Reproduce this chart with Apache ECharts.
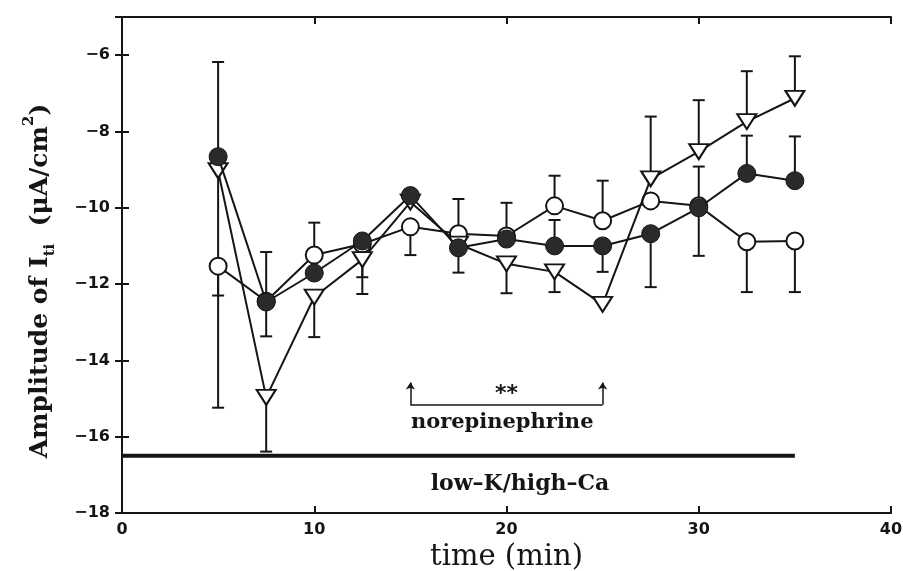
<!DOCTYPE html>
<html>
<head>
<meta charset="utf-8">
<script src="https://cdn.jsdelivr.net/npm/echarts@6/dist/echarts.min.js"></script>
<style>
  html, body { margin: 0; background: #fff; }
  #main { width: 903px; height: 571px; }
</style>
</head>
<body>
<div id="main"></div>
<script>
// time points (min)
const times = [5, 7.5, 10, 12.5, 15, 17.5, 20, 22.5, 25, 27.5, 30, 32.5, 35];
// amplitude of I_ti for the three groups
const filledVals = [-8.66, -12.47, -11.71, -10.87, -9.68, -11.05, -10.82, -11.0, -11.0, -10.68, -10.0, -9.1, -9.29];
const openVals = [-11.53, -12.45, -11.24, -10.95, -10.5, -10.68, -10.74, -9.95, -10.34, -9.82, -9.95, -10.89, -10.87];
const triVals = [-9.03, -14.97, -12.34, -11.36, -9.85, -10.95, -11.47, -11.68, -12.53, -9.24, -8.53, -7.74, -7.13];
// error bars: [time, from (mean), to (end with cap)]
const errorBars = [
    [5, -8.66, -6.18], [5, -11.53, -12.3], [5, -9.03, -15.24],
    [7.5, -12.47, -11.16], [7.5, -12.47, -13.37], [7.5, -14.97, -16.39],
    [10, -11.24, -10.39], [10, -12.34, -13.39],
    [12.5, -10.87, -11.82], [12.5, -11.36, -12.26],
    [15, -10.5, -11.24],
    [17.5, -10.68, -9.77], [17.5, -11.05, -11.7],
    [20, -10.74, -9.87], [20, -11.47, -12.24],
    [22.5, -9.95, -9.16], [22.5, -11.0, -10.32], [22.5, -11.68, -12.21],
    [25, -10.34, -9.29], [25, -11.0, -11.68],
    [27.5, -9.24, -7.61], [27.5, -10.68, -12.08],
    [30, -8.53, -7.18], [30, -10.0, -8.92], [30, -10.0, -11.26],
    [32.5, -7.74, -6.42], [32.5, -9.1, -8.11], [32.5, -10.89, -12.21],
    [35, -7.13, -6.03], [35, -9.29, -8.13], [35, -10.87, -12.21]
];
// low-K/high-Ca bar and norepinephrine period
const bathLine = [[0, -16.5], [35, -16.5]];
const drugStart = 15;
const drugEnd = 25;

const ink = '#151515';
const pairs = vals => times.map((t, i) => [t, vals[i]]);
const minus = v => (v === -5 ? '' : String(v).replace('-', '\u2212'));

const chart = echarts.init(document.getElementById('main'));

const lineCommon = {
    type: 'line',
    lineStyle: { color: ink, width: 2 },
    emphasis: { disabled: true },
    animation: false
};

const option = {
    backgroundColor: '#fff',
    grid: { left: 122, right: 12, top: 17, bottom: 58, outerBoundsMode: 'none' },
    xAxis: [
        {
            type: 'value', min: 0, max: 40, interval: 10, position: 'bottom',
            axisLine: { lineStyle: { color: ink, width: 2 } },
            axisTick: { inside: true, length: 7, lineStyle: { color: ink, width: 2 } },
            axisLabel: { fontFamily: 'DejaVu Sans', fontWeight: 'bold', fontSize: 16, color: ink, margin: 9 },
            splitLine: { show: false },
            name: 'time (min)', nameLocation: 'middle', nameGap: 30,
            nameTextStyle: { fontFamily: 'DejaVu Serif', fontSize: 29, color: ink }
        },
        {
            type: 'value', min: 0, max: 40, interval: 10, position: 'top',
            axisLine: { lineStyle: { color: ink, width: 2 } },
            axisTick: { inside: true, length: 7, lineStyle: { color: ink, width: 2 } },
            axisLabel: { show: false },
            splitLine: { show: false }
        }
    ],
    yAxis: [
        {
            type: 'value', min: -18, max: -5, interval: 2, position: 'left',
            axisLine: { show: true, lineStyle: { color: ink, width: 2 } },
            axisTick: { show: true, inside: true, length: 7, lineStyle: { color: ink, width: 2 } },
            axisLabel: { fontFamily: 'DejaVu Sans', fontWeight: 'bold', fontSize: 16, color: ink, margin: 12, formatter: minus },
            splitLine: { show: false }
        },
        {
            type: 'value', min: -18, max: -5, interval: 2, position: 'right',
            axisLine: { show: true, lineStyle: { color: ink, width: 2 } },
            axisTick: { show: true, inside: true, length: 7, lineStyle: { color: ink, width: 2 } },
            axisLabel: { show: false },
            splitLine: { show: false }
        }
    ],
    graphic: [
        {
            type: 'text',
            x: 40, y: 281,
            rotation: Math.PI / 2,
            style: {
                text: '{a|Amplitude of I}{s|ti}{a|  (\u03bcA/cm}{p|2}{a|)}',
                align: 'center',
                verticalAlign: 'middle',
                fill: ink,
                rich: {
                    a: { fontFamily: 'DejaVu Serif', fontWeight: 'bold', fontSize: 25, lineHeight: 36, verticalAlign: 'middle', fill: ink },
                    s: { fontFamily: 'DejaVu Serif', fontWeight: 'bold', fontSize: 15, lineHeight: 15, verticalAlign: 'bottom', fill: ink },
                    p: { fontFamily: 'DejaVu Serif', fontWeight: 'bold', fontSize: 15, lineHeight: 17, verticalAlign: 'top', fill: ink }
                }
            }
        }
    ],
    series: [
        {
            type: 'custom',
            data: errorBars,
            encode: { x: 0, y: [1, 2] },
            z: 1,
            silent: true,
            animation: false,
            renderItem: function (params, api) {
                const x = api.value(0);
                const p1 = api.coord([x, api.value(1)]);
                const p2 = api.coord([x, api.value(2)]);
                const w = 6;
                return {
                    type: 'group',
                    children: [
                        { type: 'line', shape: { x1: p1[0], y1: p1[1], x2: p2[0], y2: p2[1] }, style: { stroke: ink, lineWidth: 2 } },
                        { type: 'line', shape: { x1: p2[0] - w, y1: p2[1], x2: p2[0] + w, y2: p2[1] }, style: { stroke: ink, lineWidth: 2 } }
                    ]
                };
            }
        },
        Object.assign({}, lineCommon, {
            name: 'open',
            data: pairs(openVals),
            symbol: 'circle', symbolSize: 17,
            itemStyle: { color: '#fff', borderColor: ink, borderWidth: 2 },
            z: 3
        }),
        Object.assign({}, lineCommon, {
            name: 'triangle',
            data: pairs(triVals),
            symbol: 'triangle', symbolSize: [19, 15], symbolRotate: 180,
            itemStyle: { color: '#fff', borderColor: ink, borderWidth: 2 },
            z: 4
        }),
        Object.assign({}, lineCommon, {
            name: 'filled',
            data: pairs(filledVals),
            symbol: 'circle', symbolSize: 18,
            itemStyle: { color: '#2a2a2a', borderColor: ink, borderWidth: 1 },
            z: 5
        }),
        {
            type: 'line',
            data: bathLine,
            symbol: 'none',
            lineStyle: { color: ink, width: 4 },
            silent: true,
            animation: false,
            z: 2
        },
        {
            type: 'scatter',
            symbol: 'rect', symbolSize: 1,
            itemStyle: { color: 'rgba(0,0,0,0)', opacity: 1 },
            silent: true,
            animation: false,
            data: [
                {
                    value: [drugStart, -15.62],
                    label: { show: true, position: 'right', distance: 0, formatter: 'norepinephrine',
                        fontFamily: 'DejaVu Serif', fontWeight: 'bold', fontSize: 21, color: ink }
                },
                {
                    value: [(drugStart + drugEnd) / 2, -14.9],
                    label: { show: true, position: 'inside', formatter: '**',
                        fontFamily: 'DejaVu Sans', fontWeight: 'bold', fontSize: 22, color: ink }
                },
                {
                    value: [20.7, -17.25],
                    label: { show: true, position: 'inside', formatter: 'low\u2013K/high\u2013Ca',
                        fontFamily: 'DejaVu Serif', fontWeight: 'bold', fontSize: 22, color: ink }
                }
            ],
            markLine: {
                silent: true,
                animation: false,
                symbol: ['none', 'arrow'],
                symbolSize: 7,
                label: { show: false },
                lineStyle: { color: ink, width: 1.5, type: 'solid' },
                data: [
                    [{ coord: [drugStart, -15.16] }, { coord: [drugStart, -14.58] }],
                    [{ coord: [drugEnd, -15.16] }, { coord: [drugEnd, -14.58] }],
                    [{ coord: [drugStart, -15.16], symbol: 'none' }, { coord: [drugEnd, -15.16], symbol: 'none' }]
                ]
            }
        }
    ]
};

chart.setOption(option);
window.onresize = function () {
    chart.resize();
};
</script>
</body>
</html>
